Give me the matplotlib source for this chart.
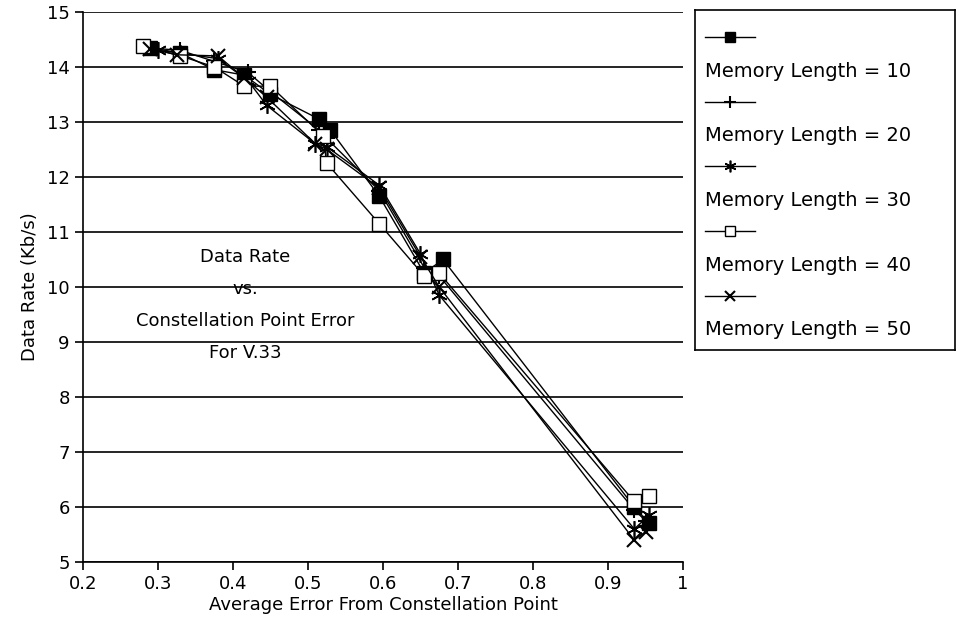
import matplotlib
matplotlib.use("Agg")
from matplotlib import pyplot as plt

# average error from constellation point vs data rate (Kb/s)
ml10_x = [0.290, 0.330, 0.375, 0.415, 0.450, 0.515, 0.530, 0.595, 0.655, 0.680, 0.935, 0.955]
ml10_y = [14.35, 14.25, 13.95, 13.85, 13.50, 13.05, 12.85, 11.65, 10.25, 10.50, 6.00, 5.70]
ml20_x = [0.285, 0.330, 0.375, 0.420, 0.450, 0.515, 0.525, 0.595, 0.655, 0.675, 0.935, 0.950]
ml20_y = [14.35, 14.30, 14.10, 13.90, 13.55, 12.85, 12.70, 11.75, 10.35, 10.20, 5.95, 5.75]
ml30_x = [0.300, 0.330, 0.380, 0.420, 0.445, 0.510, 0.525, 0.595, 0.650, 0.675, 0.935, 0.955]
ml30_y = [14.30, 14.25, 14.15, 13.75, 13.30, 12.60, 12.55, 11.85, 10.60, 9.85, 5.60, 5.85]
ml40_x = [0.280, 0.330, 0.375, 0.415, 0.450, 0.520, 0.525, 0.595, 0.655, 0.675, 0.935, 0.955]
ml40_y = [14.38, 14.20, 14.00, 13.65, 13.65, 12.75, 12.25, 11.15, 10.20, 10.25, 6.10, 6.20]
ml50_x = [0.290, 0.325, 0.380, 0.415, 0.445, 0.510, 0.525, 0.595, 0.650, 0.675, 0.935, 0.950]
ml50_y = [14.33, 14.22, 14.20, 13.80, 13.45, 12.60, 12.50, 11.80, 10.55, 10.00, 5.40, 5.55]

labels = ["Memory Length = 10", "Memory Length = 20", "Memory Length = 30",
          "Memory Length = 40", "Memory Length = 50"]

plt.rcParams['font.family'] = 'DejaVu Sans'

fig = plt.figure(figsize=(9.57, 6.33), dpi=100)
ax = fig.add_axes([0.0867, 0.1122, 0.627, 0.869])

styles = [
    dict(marker='s', markersize=10, markerfacecolor='black'),
    dict(marker='+', markersize=12, markeredgewidth=1.5),
    dict(marker=(6, 2, 0), markersize=12, markeredgewidth=1.2),
    dict(marker='s', markersize=10, markerfacecolor='white'),
    dict(marker='x', markersize=10, markeredgewidth=1.5),
]
series = [(ml10_x, ml10_y), (ml20_x, ml20_y), (ml30_x, ml30_y), (ml40_x, ml40_y), (ml50_x, ml50_y)]
for (xs, ys), st, lab in zip(series, styles, labels):
    ax.plot(xs, ys, color='black', linewidth=1, markeredgecolor='black', label=lab, **st)

ax.set_xlim(0.2, 1.0)
ax.set_ylim(5, 15)
ax.set_xticks([0.2, 0.3, 0.4, 0.5, 0.6, 0.7, 0.8, 0.9, 1.0])
ax.set_xticklabels(["0.2", "0.3", "0.4", "0.5", "0.6", "0.7", "0.8", "0.9", "1"])
ax.set_yticks(range(5, 16))
ax.yaxis.grid(True, color='black', linewidth=1.2)
ax.set_axisbelow(True)
ax.tick_params(labelsize=13, direction='out', length=6, width=1.2, colors='black')
for s in ax.spines.values():
    s.set_linewidth(1.2)
ax.spines['top'].set_visible(False)
ax.spines['right'].set_visible(False)
ax.set_xlabel("Average Error From Constellation Point", fontsize=13, labelpad=2)
ax.set_ylabel("Data Rate (Kb/s)", fontsize=13, labelpad=6)

ax.text(0.416, 9.67, "Data Rate\nvs.\nConstellation Point Error\nFor V.33",
        ha='center', va='center', fontsize=13, linespacing=2.0)

# legend box drawn by hand: marker sample above each label
lax = fig.add_axes([0.726, 0.447, 0.272, 0.537])
lax.set_xlim(0, 1)
lax.set_ylim(0, 1)
lax.set_xticks([])
lax.set_yticks([])
for s in lax.spines.values():
    s.set_linewidth(1.2)
for i, (st, lab) in enumerate(zip(styles, labels)):
    ytop = 0.92 - i * 0.19
    small = dict(st)
    small['markersize'] = st['markersize'] * 0.7
    lax.plot([0.04, 0.23], [ytop, ytop], color='black', linewidth=1)
    lax.plot([0.135], [ytop], color='black', markeredgecolor='black', **small)
    lax.text(0.04, ytop - 0.1, lab, fontsize=14, va='center', ha='left')

fig.savefig("out.png", dpi=100)
